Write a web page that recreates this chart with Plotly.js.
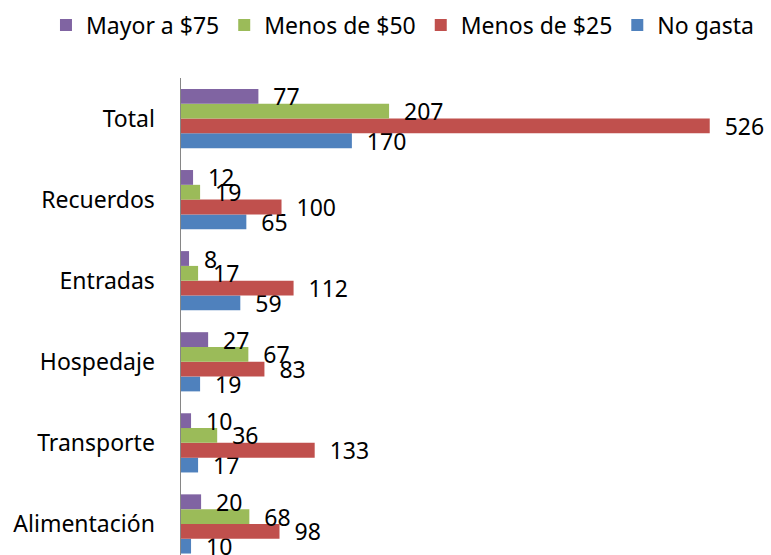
<!DOCTYPE html>
<html>
<head>
<meta charset="utf-8">
<script src="https://cdn.plot.ly/plotly-3.0.1.min.js"></script>
<style>html,body{margin:0;padding:0;background:#fff;}#chart{width:771px;height:555px;}</style>
</head>
<body>
<div id="chart"></div>
<script>
const categories = ["Alimentación", "Transporte", "Hospedaje", "Entradas", "Recuerdos", "Total"];
const noGasta   = [10, 17, 19, 59, 65, 170];
const menos25   = [98, 133, 83, 112, 100, 526];
const menos50   = [68, 36, 67, 17, 19, 207];
const mayor75   = [20, 10, 27, 8, 12, 77];
const seriesNames = ["No gasta", "Menos de $25", "Menos de $50", "Mayor a $75"];
const seriesColors = ["#4F81BD", "#C0504D", "#9BBB59", "#8064A2"];
const seriesValues = [noGasta, menos25, menos50, mayor75];

const FONT = "'Noto Sans', 'Open Sans', sans-serif";
const FS = 23;

const traces = seriesValues.map((vals, i) => ({
  type: "bar",
  orientation: "h",
  name: seriesNames[i],
  y: categories,
  x: vals,
  marker: {color: seriesColors[i]},
  text: vals.map(v => "\u00a0\u00a0" + v),
  textposition: "outside",
  constraintext: "none",
  cliponaxis: false,
  textfont: {family: FONT, size: FS, color: "#000"},
  hoverinfo: "x+name"
}));

const layout = {
  width: 771,
  height: 555,
  margin: {l: 181, r: 10, t: 78, b: 0, pad: 0},
  paper_bgcolor: "#fff",
  plot_bgcolor: "#fff",
  barmode: "group",
  bargap: 0.27,
  bargroupgap: 0,
  font: {family: FONT, size: FS, color: "#000"},
  xaxis: {
    range: [0, 577],
    showgrid: false,
    zeroline: false,
    showline: false,
    showticklabels: false,
    ticks: ""
  },
  yaxis: {
    type: "category",
    range: [-0.383, 5.5],
    showgrid: false,
    zeroline: false,
    showline: true,
    linecolor: "#868686",
    linewidth: 1.5,
    ticks: "",
    ticklabelstandoff: 20,
    tickfont: {family: FONT, size: FS, color: "#000"}
  },
  showlegend: true,
  legend: {
    orientation: "h",
    traceorder: "reversed",
    x: -0.2328,
    xanchor: "left",
    y: 1.111,
    yanchor: "middle",
    font: {family: FONT, size: FS, color: "#000"},
    bgcolor: "rgba(0,0,0,0)"
  }
};

Plotly.newPlot("chart", traces, layout, {displayModeBar: false, staticPlot: true});
</script>
</body>
</html>
